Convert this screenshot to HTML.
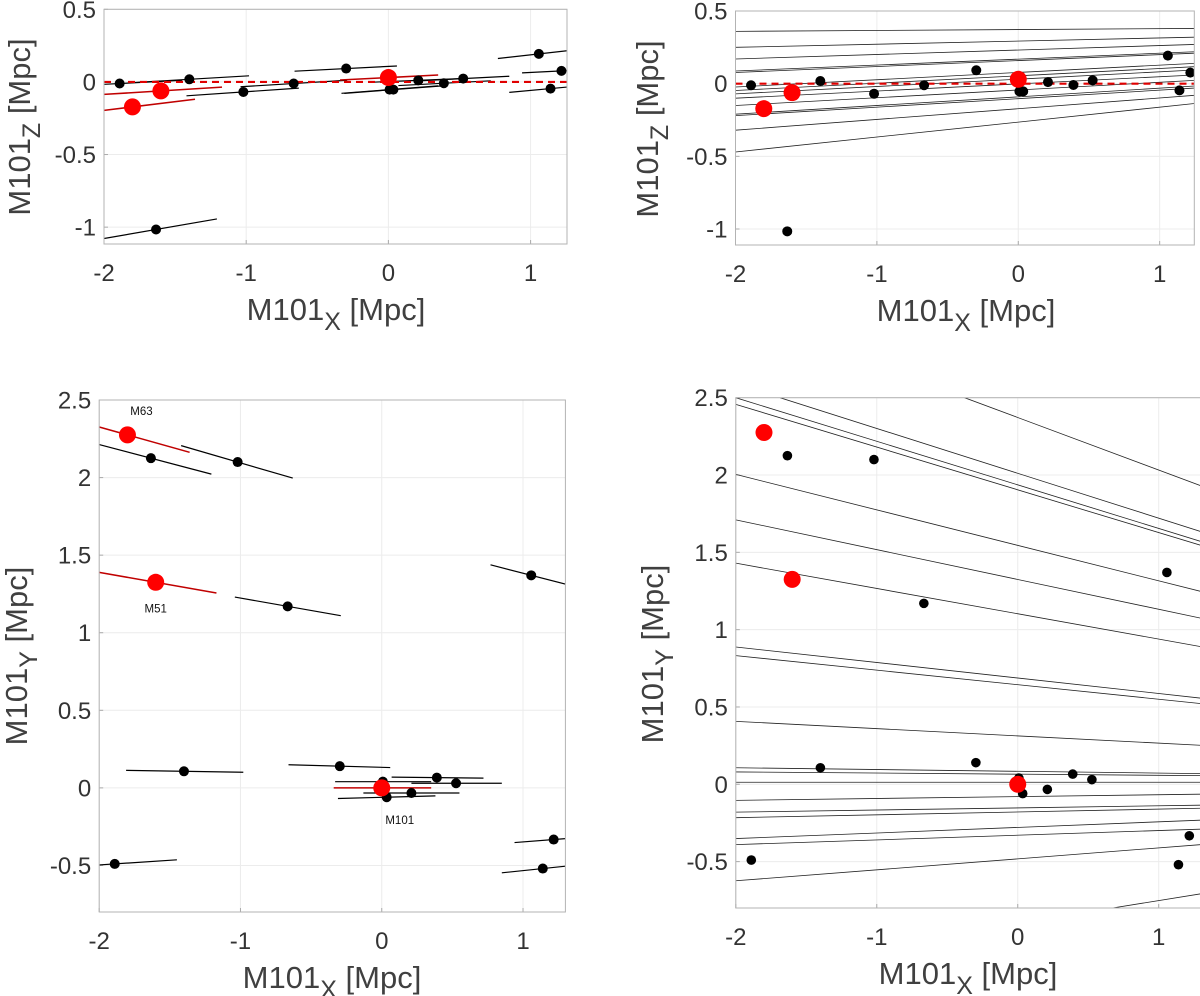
<!DOCTYPE html>
<html><head><meta charset="utf-8">
<style>
html,body{margin:0;padding:0;background:#fff;}
svg{display:block;font-family:"Liberation Sans",Arial,sans-serif;}
</style></head>
<body>
<svg id="fig" width="1200" height="996" viewBox="0 0 1200 996" xmlns="http://www.w3.org/2000/svg"></svg>
<script>
// ---- data: galaxies (x, y, z in Mpc, M101 frame) ----
const galX = [-1.634,-1.02,-0.666,1.058,-1.40,-0.297,0.39,0.526,0.008,0.035,0.21,1.217,1.14,-1.89];
const galY = [2.125,2.10,1.17,1.37,0.107,0.14,0.066,0.03,0.04,-0.06,-0.033,-0.333,-0.52,-0.49];
const galZ = [-1.016,-0.069,-0.011,0.193,0.018,0.092,-0.009,0.023,-0.053,-0.053,0.011,0.076,-0.046,-0.011];
// segment extents (x) and slopes
const segX0 = [-2,-1.42,-1.04,0.77,-1.81,-0.66,0.07,0.21,-0.33,-0.31,-0.13,0.94,0.85,-2];
const segX1 = [-1.206,-0.63,-0.29,1.31,-0.98,0.06,0.72,0.85,0.35,0.38,0.55,1.31,1.31,-1.45];
const slopeXY = [-0.24,-0.265,-0.16,-0.235,-0.015,-0.025,-0.01,0,0,0.025,0,0.07,0.095,0.06];
const slopeXZ = [0.17,0.067,0.06,0.11,0.057,0.05,0.05,0.05,0.075,0.075,0.04,0.05,0.09,0.05];
// named groups
const grpName = ["M63","M51","M101"];
const grpX = [-1.80,-1.60,0];
const grpY = [2.275,1.325,0];
const grpZ = [-0.172,-0.062,0.03];
const grpX0 = [-2,-2,-0.34];
const grpX1 = [-1.36,-1.17,0.35];
const grpSlopeXY = [-0.255,-0.16,0];
const grpSlopeXZ = [0.12,0.06,0.05];
// plane lines (right panels): [xStart, valStart, xEnd, valEnd]
const planeXZ = [[-2,0.36,1.25,0.38],[-2,0.25,1.25,0.32],[-2,0.17,1.25,0.27],[-2,0.087,1.25,0.22],[-2,0.077,1.25,0.21],[-2,-0.023,1.25,0.14],[-2,-0.047,1.25,0.117],[-2,-0.07,1.25,0.094],[-2,-0.10,1.25,0.06],[-2,-0.15,1.25,0.023],[-2,-0.21,1.25,-0.016],[-2,-0.22,1.25,-0.03],[-2,-0.32,1.25,-0.08],[-2,-0.47,1.25,-0.136]];
const planeXY = [[-1.686,2.5,1.3,1.634],[-2,2.5,1.3,1.57],[-2,2.457,1.3,1.545],[-0.377,2.5,1.3,1.93],[-2,2.004,1.3,1.247],[-2,1.71,1.3,1.074],[-2,1.43,1.3,0.89],[-2,0.888,1.3,0.557],[-2,0.832,1.3,0.522],[-2,0.407,1.3,0.252],[-2,0.107,1.3,0.069],[-2,0.08,1.3,0.056],[-2,0.013,1.3,0.013],[-2,-0.104,1.3,-0.064],[-2,-0.18,1.3,-0.135],[-2,-0.216,1.3,-0.155],[-2,-0.351,1.3,-0.232],[-2,-0.39,1.3,-0.29],[-2,-0.624,1.3,-0.39],[0.605,-0.81,1.3,-0.708]];
const xTicks = [-2,-1,0,1];
const xTickLabels = ["-2","-1","0","1"];
const zTicks = [0.5,0,-0.5,-1];
const zTickLabels = ["0.5","0","-0.5","-1"];
const yTicks = [2.5,2,1.5,1,0.5,0,-0.5];
const yTickLabels = ["2.5","2","1.5","1","0.5","0","-0.5"];

const NS = "http://www.w3.org/2000/svg";
const svg = document.getElementById('fig');
function el(tag, attrs, parent){ const e=document.createElementNS(NS,tag); for(const k in attrs) e.setAttribute(k,attrs[k]); (parent||svg).appendChild(e); return e; }

function panel(cfg){
  const g = el('g',{});
  
  
  const sx = v => cfg.L + (v-cfg.xmin)/(cfg.xmax-cfg.xmin)*(cfg.R-cfg.L);
  const sy = v => cfg.T + (cfg.ymax-v)/(cfg.ymax-cfg.ymin)*(cfg.B-cfg.T);
  const cid = 'clip-'+cfg.name;
  const cp = el('clipPath',{id:cid},g);
  el('rect',{x:cfg.L,y:cfg.T,width:cfg.R-cfg.L,height:cfg.B-cfg.T},cp);
  xTicks.forEach(t=>{ const gl=el('line',{x1:sx(t),x2:sx(t),y1:cfg.T,y2:cfg.B,stroke:'#ececec','stroke-width':1},g);
     
    const tk=el('line',{x1:sx(t),x2:sx(t),y1:cfg.B,y2:cfg.B-4,stroke:'#aaa'},g);
      });
  cfg.yt.forEach(t=>{ const gl=el('line',{x1:cfg.L,x2:cfg.R,y1:sy(t),y2:sy(t),stroke:'#ececec','stroke-width':1},g);
     
    const tk=el('line',{x1:cfg.L,x2:cfg.L+4,y1:sy(t),y2:sy(t),stroke:'#aaa'},g);
      });
  const plot = el('g',{'clip-path':'url(#'+cid+')'},g);
  
  
  cfg.draw(plot, sx, sy);
  const fr=el('rect',{x:cfg.L,y:cfg.T,width:cfg.R-cfg.L,height:cfg.B-cfg.T,fill:'none',stroke:'#b3b3b3','stroke-width':1},g);
   
  xTicks.forEach((t,i)=>{ const tx=el('text',{x:sx(t),y:cfg.B+37,'text-anchor':'middle','font-size':24,fill:'#333'},g);
    tx.textContent=xTickLabels[i];
      });
  cfg.yt.forEach((t,i)=>{ const tx=el('text',{x:cfg.L-8,y:sy(t)+8.5,'text-anchor':'end','font-size':24,fill:'#333'},g);
    tx.textContent=cfg.ytl[i];
      });
  const xt=el('text',{x:cfg.xtx,y:cfg.B+76,'text-anchor':'middle','font-size':31,fill:'#404040'},g);
   
  xt.innerHTML='M101<tspan dy="10" font-size="25">X</tspan><tspan dy="-10"> [Mpc]</tspan>';
  const yt=el('text',{x:0,y:0,'text-anchor':'middle','font-size':31,fill:'#404040',transform:'translate('+cfg.ytx+','+cfg.yty+') rotate(-90)'},g);
   
  yt.innerHTML='M101<tspan dy="10" font-size="25">'+cfg.yv+'</tspan><tspan dy="-10"> [Mpc]</tspan>';
}

function segments(plot, sx, sy, vals, slopes, gvals, gslopes){
  galX.forEach((x,i)=>{ const v=vals[i];
    const s=el('line',{x1:sx(segX0[i]),y1:sy(v+slopes[i]*(segX0[i]-x)),x2:sx(segX1[i]),y2:sy(v+slopes[i]*(segX1[i]-x)),stroke:'#000','stroke-width':1.2},plot);
      });
  grpX.forEach((x,i)=>{ const v=gvals[i];
    const s=el('line',{x1:sx(grpX0[i]),y1:sy(v+gslopes[i]*(grpX0[i]-x)),x2:sx(grpX1[i]),y2:sy(v+gslopes[i]*(grpX1[i]-x)),stroke:'#c00000','stroke-width':1.5},plot);
      });
}
function dots(plot, sx, sy, vals, gvals, rb, rr){
  galX.forEach((x,i)=>{ const c=el('circle',{cx:sx(x),cy:sy(vals[i]),r:rb,fill:'#000'},plot);
      });
  grpX.forEach((x,i)=>{ const c=el('circle',{cx:sx(x),cy:sy(gvals[i]),r:rr,fill:'#f00'},plot);
      });
}
function planes(plot, sx, sy, arr){
  arr.forEach(p=>{ const l=el('line',{x1:sx(p[0]),y1:sy(p[1]),x2:sx(p[2]),y2:sy(p[3]),stroke:'#222','stroke-width':0.8},plot);
      });
}
function dashed(plot, sx, sy){
  const d=el('line',{x1:sx(-2),y1:sy(0),x2:sx(1.4),y2:sy(0),stroke:'#e00000','stroke-width':2.2,'stroke-dasharray':'7,5'},plot);
   
}

panel({name:'panel-xz-segments',L:104,R:567,T:9.3,B:244,xmin:-2,xmax:1.256,ymin:-1.116,ymax:0.5,yt:zTicks,ytl:zTickLabels,yv:'Z',xtx:336,ytx:30,yty:127,
  draw:(p,sx,sy)=>{ segments(p,sx,sy,galZ,slopeXZ,grpZ,grpSlopeXZ); dashed(p,sx,sy); dots(p,sx,sy,galZ,grpZ,5,8.5); }});
panel({name:'panel-xz-planes',L:735.5,R:1194.3,T:11,B:245,xmin:-2,xmax:1.245,ymin:-1.11,ymax:0.5,yt:zTicks,ytl:zTickLabels,yv:'Z',xtx:966,ytx:658,yty:129,
  draw:(p,sx,sy)=>{ planes(p,sx,sy,planeXZ); dashed(p,sx,sy); dots(p,sx,sy,galZ,grpZ,5,8.5); }});
panel({name:'panel-xy-segments',L:99.2,R:565.4,T:400,B:912,xmin:-2,xmax:1.3,ymin:-0.8,ymax:2.5,yt:yTicks,ytl:yTickLabels,yv:'Y',xtx:332,ytx:27,yty:656,
  draw:(p,sx,sy)=>{ segments(p,sx,sy,galY,slopeXY,grpY,grpSlopeXY); dots(p,sx,sy,galY,grpY,5,8.5);
    const off=[[14,-20],[0,30],[18,36]];
    grpX.forEach((x,i)=>{ const t=el('text',{x:sx(x)+off[i][0],y:sy(grpY[i])+off[i][1],'text-anchor':'middle','font-size':11.5,fill:'#111'},p);
      t.textContent=grpName[i];
        }); }});
panel({name:'panel-xy-planes',L:735.8,R:1201,T:397.7,B:908,xmin:-2,xmax:1.3,ymin:-0.8,ymax:2.5,yt:yTicks,ytl:yTickLabels,yv:'Y',xtx:968,ytx:663,yty:654,
  draw:(p,sx,sy)=>{ planes(p,sx,sy,planeXY); dots(p,sx,sy,galY,grpY,4.8,8.5); }});
</script>
</body></html>
